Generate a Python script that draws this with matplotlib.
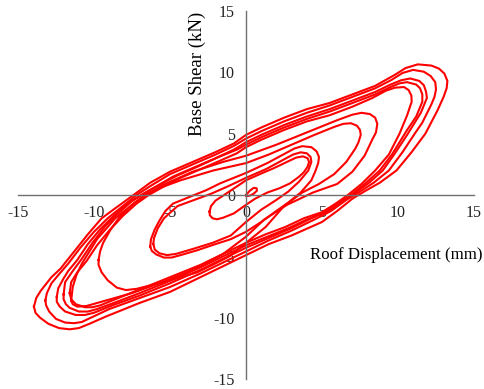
import matplotlib
matplotlib.use('Agg')
import matplotlib.pyplot as plt

plt.rcParams['font.family'] = ['Liberation Serif', 'DejaVu Serif']
plt.rcParams['axes.unicode_minus'] = False

# Hysteresis loops (roof displacement mm, base shear kN)
loop_tiny = [(0, 0), (0.25, 0.35), (0.5, 0.58), (0.7, 0.55), (0.72, 0.35), (0.5, 0.1), (0.25, -0.05), (0, -0.1), (0, 0)]

loop_s = [(-2.4, -1.35), (-2.3, -0.9), (-2.0, -0.45), (-1.5, -0.05), (-0.9, 0.45), (0, 1.2), (1.0, 1.75),
          (1.8, 2.17), (2.7, 2.7), (3.3, 3.05), (3.75, 3.15), (4.05, 3.0), (4.15, 2.7), (4.05, 2.3), (3.8, 1.85),
          (3.5, 1.5), (2.9, 0.95), (2.2, 0.55), (1.4, 0.2), (0.6, -0.3), (0, -0.8), (-0.8, -1.5), (-1.5, -1.85),
          (-1.9, -1.98), (-2.2, -1.9), (-2.38, -1.65), (-2.4, -1.35)]

loop_md_a = [(-6.3, -4.2), (-6.25, -3.6), (-6.0, -2.8), (-5.7, -2.1), (-5.3, -1.3), (-4.8, -0.7), (-3.7, -0.15),
             (-2.6, 0.4), (-1.7, 0.95), (0, 1.8), (1.4, 2.6), (2.6, 3.4), (3.2, 3.8), (3.7, 3.98), (4.3, 3.9),
             (4.65, 3.55), (4.8, 3.1), (4.75, 2.6), (4.55, 1.9), (4.3, 1.2), (3.6, 0.2), (2.8, -0.6), (2.0, -1.3),
             (1.0, -2.2), (0, -3.0), (-1.0, -3.6), (-2.0, -4.0), (-3.2, -4.5), (-4.3, -4.9), (-4.9, -5.1),
             (-5.4, -5.1), (-5.9, -4.85), (-6.2, -4.55), (-6.3, -4.2)]

loop_md_b = [(-6.1, -4.0), (-6.05, -3.5), (-5.8, -2.7), (-5.4, -1.9), (-4.5, -0.9), (-3.4, -0.4), (-2.3, 0.1),
             (-1.2, 0.7), (0, 1.4), (1.3, 2.1), (2.5, 2.9), (3.1, 3.3), (3.6, 3.48), (4.0, 3.4), (4.25, 3.1),
             (4.3, 2.7), (4.1, 2.0), (3.5, 1.1), (2.8, 0.3), (2.0, -0.4), (1.0, -1.2), (0, -2.2), (-1.0, -3.3),
             (-2.2, -3.9), (-3.5, -4.4), (-4.6, -4.8), (-5.2, -4.9), (-5.7, -4.75), (-6.0, -4.45), (-6.1, -4.0)]

loop_m1 = [(-9.7, -5.3), (-9.6, -4.6), (-9.4, -3.9), (-8.9, -2.8), (-8.3, -1.77), (-7.4, -0.7), (-6.5, 0.14),
           (-5.4, 0.7), (-4.3, 1.2), (-2.15, 2.0), (0, 2.6), (1.5, 3.3), (3.0, 4.1), (4.5, 4.9), (5.8, 5.55),
           (6.4, 5.8), (6.9, 5.85), (7.3, 5.65), (7.5, 5.3), (7.55, 4.9), (7.4, 4.3), (7.2, 3.8), (6.6, 2.7),
           (5.8, 1.7), (4.8, 0.9), (3.7, 0.2), (2.5, -0.9), (1.3, -2.6), (0, -3.9), (-1.1, -5.0), (-2.2, -5.7),
           (-3.2, -6.3), (-5.4, -7.1), (-7.2, -7.65), (-7.9, -7.75), (-8.5, -7.55), (-9.1, -6.95),
           (-9.5, -6.3), (-9.7, -5.7), (-9.7, -5.3)]

loop_m2 = [(-11.5, -8.6), (-11.4, -7.5), (-11.15, -6.5), (-10.8, -5.6), (-9.8, -3.6), (-8.6, -1.9), (-7.3, -0.6),
           (-5.5, 0.8), (-3.5, 1.9), (-1.5, 2.7), (0, 3.2), (2.0, 4.1), (4.0, 5.1), (6.0, 6.1), (7.0, 6.55),
           (7.6, 6.7), (8.15, 6.6), (8.5, 6.3), (8.64, 5.8), (8.55, 5.1), (8.3, 4.5), (7.8, 3.2), (7.0, 1.9),
           (6.0, 0.9), (4.4, 0.2), (2.7, -0.8), (1.2, -2.0), (0, -3.4), (-1.5, -4.8), (-3.5, -6.1),
           (-5.5, -7.1), (-7.5, -8.0), (-9.5, -8.7), (-10.5, -9.05), (-11.1, -9.1), (-11.4, -8.9), (-11.5, -8.6)]

loop_b1 = [(-13.95, -9.1), (-13.8, -8.4), (-13.5, -7.8), (-12.8, -6.7), (-12.2, -6.0), (-11.3, -4.6), (-10.4, -3.2),
           (-9.5, -1.9), (-8.4, -0.9), (-7.4, 0.0), (-6.3, 1.0), (-5.0, 1.9), (-3.5, 2.7), (-2.0, 3.5), (-0.8, 4.2),
           (0, 4.9), (1.0, 5.5), (2.5, 6.3), (4.0, 7.0), (5.5, 7.5), (7.0, 8.2), (8.5, 8.9), (9.8, 9.8),
           (10.5, 10.35), (11.3, 10.65), (12.2, 10.55), (12.7, 10.3), (13.05, 9.9), (13.25, 9.3), (13.2, 8.7),
           (13.0, 8.0), (12.6, 6.9), (11.8, 5.0), (10.9, 3.5), (9.9, 2.0), (8.8, 1.0), (7.8, 0.3), (7.0, -0.3),
           (6.0, -1.3), (5.0, -2.2), (3.0, -3.3), (1.5, -4.0), (0, -4.9), (-1.5, -5.8), (-3.0, -6.7),
           (-5.0, -7.9), (-7.0, -8.8), (-9.2, -9.9), (-10.3, -10.5), (-11.0, -10.85), (-11.6, -10.95),
           (-12.3, -10.85), (-13.0, -10.5), (-13.55, -10.0), (-13.85, -9.6), (-13.95, -9.1)]

loop_b2 = [(-13.2, -8.6), (-13.1, -8.0), (-12.8, -7.2), (-12.4, -6.6), (-11.7, -5.6), (-10.9, -4.3), (-10.0, -3.0),
           (-9.1, -1.9), (-8.1, -0.9), (-7.2, 0.0), (-6.2, 0.8), (-5.0, 1.7), (-3.5, 2.5), (-2.0, 3.3), (-0.8, 4.0),
           (0, 4.6), (1.0, 5.2), (2.5, 6.0), (4.0, 6.7), (5.5, 7.3), (7.0, 8.0), (8.5, 8.7), (9.6, 9.4),
           (10.3, 9.95), (11.0, 10.2), (11.7, 10.05), (12.15, 9.7), (12.45, 9.2), (12.5, 8.6), (12.4, 8.0),
           (12.2, 7.4), (11.6, 5.9), (11.1, 5.0), (10.3, 3.5), (9.4, 2.0), (8.4, 1.0), (7.4, 0.2), (6.6, -0.4),
           (5.6, -1.3), (4.5, -2.0), (3.0, -2.9), (1.5, -3.7), (0, -4.6), (-1.5, -5.5), (-3.0, -6.4),
           (-5.0, -7.5), (-7.0, -8.4), (-9.0, -9.3), (-10.2, -10.0), (-10.8, -10.35), (-11.3, -10.45),
           (-11.9, -10.4), (-12.5, -10.1), (-12.95, -9.5), (-13.15, -9.0), (-13.2, -8.6)]

loop_b3 = [(-12.45, -8.3), (-12.35, -7.6), (-12.0, -6.8), (-11.7, -6.2), (-11.1, -5.3), (-10.4, -4.0), (-9.6, -2.8),
           (-8.7, -1.7), (-7.8, -0.7), (-6.9, 0.0), (-5.9, 0.7), (-4.8, 1.5), (-3.5, 2.2), (-2.0, 3.0),
           (-0.8, 3.7), (0, 4.3), (1.0, 4.9), (2.5, 5.7), (4.0, 6.4), (5.5, 7.0), (7.0, 7.7), (8.5, 8.4),
           (9.5, 9.0), (10.2, 9.35), (10.8, 9.5), (11.4, 9.3), (11.7, 8.95), (11.85, 8.4), (11.9, 7.9),
           (11.5, 6.7), (10.9, 5.5), (10.6, 4.9), (9.8, 3.4), (9.0, 2.0), (8.1, 1.0), (7.2, 0.2), (6.4, -0.5),
           (5.4, -1.3), (4.3, -1.9), (3.0, -2.7), (1.5, -3.5), (0, -4.3), (-1.5, -5.2), (-3.0, -6.1),
           (-5.0, -7.2), (-7.0, -8.2), (-8.8, -9.0), (-10.0, -9.6), (-10.6, -9.78), (-11.2, -9.78),
           (-11.9, -9.5), (-12.25, -9.1), (-12.45, -8.7), (-12.45, -8.3)]

loop_b4 = [(-12.0, -8.1), (-11.9, -7.1), (-11.4, -6.2), (-10.8, -5.2), (-10.1, -3.9), (-9.3, -2.6), (-8.4, -1.5),
           (-7.5, -0.5), (-6.6, 0.2), (-5.6, 0.9), (-4.5, 1.6), (-3.2, 2.3), (-1.8, 3.1), (-0.6, 3.7), (0, 4.1),
           (1.0, 4.7), (2.5, 5.5), (4.0, 6.2), (5.5, 6.8), (7.0, 7.5), (8.5, 8.2), (9.5, 8.8), (10.1, 9.1),
           (10.6, 9.2), (11.2, 9.0), (11.45, 8.7), (11.6, 8.2), (11.6, 7.6), (11.2, 6.4), (10.6, 5.3),
           (10.4, 4.9), (9.6, 3.3), (8.8, 2.0), (7.9, 1.0), (7.0, 0.1), (6.2, -0.6), (5.2, -1.4), (4.0, -2.0),
           (2.8, -2.7), (1.4, -3.4), (0, -4.1), (-1.5, -5.0), (-3.0, -5.9), (-5.0, -7.0), (-7.0, -8.0),
           (-8.7, -8.8), (-9.8, -9.3), (-10.4, -9.5), (-11.0, -9.5), (-11.6, -9.2), (-11.85, -8.9),
           (-12.0, -8.5), (-12.0, -8.1)]

loop_b5 = [(-11.6, -8.0), (-11.5, -7.1), (-11.1, -6.3), (-10.5, -5.4), (-9.8, -4.1), (-9.0, -2.9), (-8.1, -1.7),
           (-7.2, -0.7), (-6.4, 0.0), (-5.4, 0.7), (-4.3, 1.4), (-3.0, 2.1), (-1.7, 2.8), (-0.6, 3.4), (0, 3.9),
           (1.0, 4.5), (2.5, 5.3), (4.0, 6.0), (5.5, 6.5), (7.0, 7.2), (8.3, 7.9), (9.2, 8.5), (9.8, 8.75),
           (10.4, 8.8), (10.7, 8.55), (10.88, 8.1), (10.9, 7.6), (10.6, 6.5), (10.1, 5.0), (9.4, 3.3),
           (8.5, 2.0), (7.6, 0.9), (6.7, 0.0), (5.9, -0.7), (5.0, -1.4), (3.8, -1.9), (2.6, -2.6), (1.3, -3.2),
           (0, -3.9), (-1.5, -4.8), (-3.0, -5.7), (-5.0, -6.7), (-7.0, -7.7), (-8.6, -8.5), (-9.6, -9.0),
           (-10.1, -9.15), (-10.6, -9.15), (-11.2, -8.9), (-11.5, -8.5), (-11.6, -8.0)]

loops = [loop_tiny, loop_s, loop_md_a, loop_md_b, loop_m1, loop_m2,
         loop_b1, loop_b2, loop_b3, loop_b4, loop_b5]

ticks = [-15, -10, -5, 0, 5, 10, 15]

fig = plt.figure(figsize=(4.85, 3.89), dpi=100)
ax = fig.add_axes([18 / 485, 10 / 389, 456 / 485, 368 / 389])

for lp in loops:
    xs = [p[0] for p in lp]
    ys = [p[1] for p in lp]
    ax.plot(xs, ys, color='#ff0000', lw=1.5, solid_joinstyle='round')

ax.set_xlim(-15, 15)
ax.set_ylim(-15, 15)
ax.set_xticks(ticks)
ax.set_yticks(ticks)
ax.spines['left'].set_position(('data', 0))
ax.spines['bottom'].set_position(('data', 0))
ax.spines['top'].set_visible(False)
ax.spines['right'].set_visible(False)
for s in ['left', 'bottom']:
    ax.spines[s].set_color('#707070')
    ax.spines[s].set_linewidth(1.0)
ax.tick_params(axis='both', length=0, labelsize=11.5, colors='#222222')
ax.tick_params(axis='x', pad=7)
ax.tick_params(axis='y', pad=8)
ax.patch.set_alpha(0)

ax.text(0.3925, 0.829, 'Base Shear (kN)', transform=ax.transAxes, rotation=90,
        ha='center', va='center', fontsize=13.5)
ax.text(0.64, 0.337, 'Roof Displacement (mm)', transform=ax.transAxes,
        ha='left', va='center', fontsize=12.2)

plt.savefig('out.png', dpi=100)
